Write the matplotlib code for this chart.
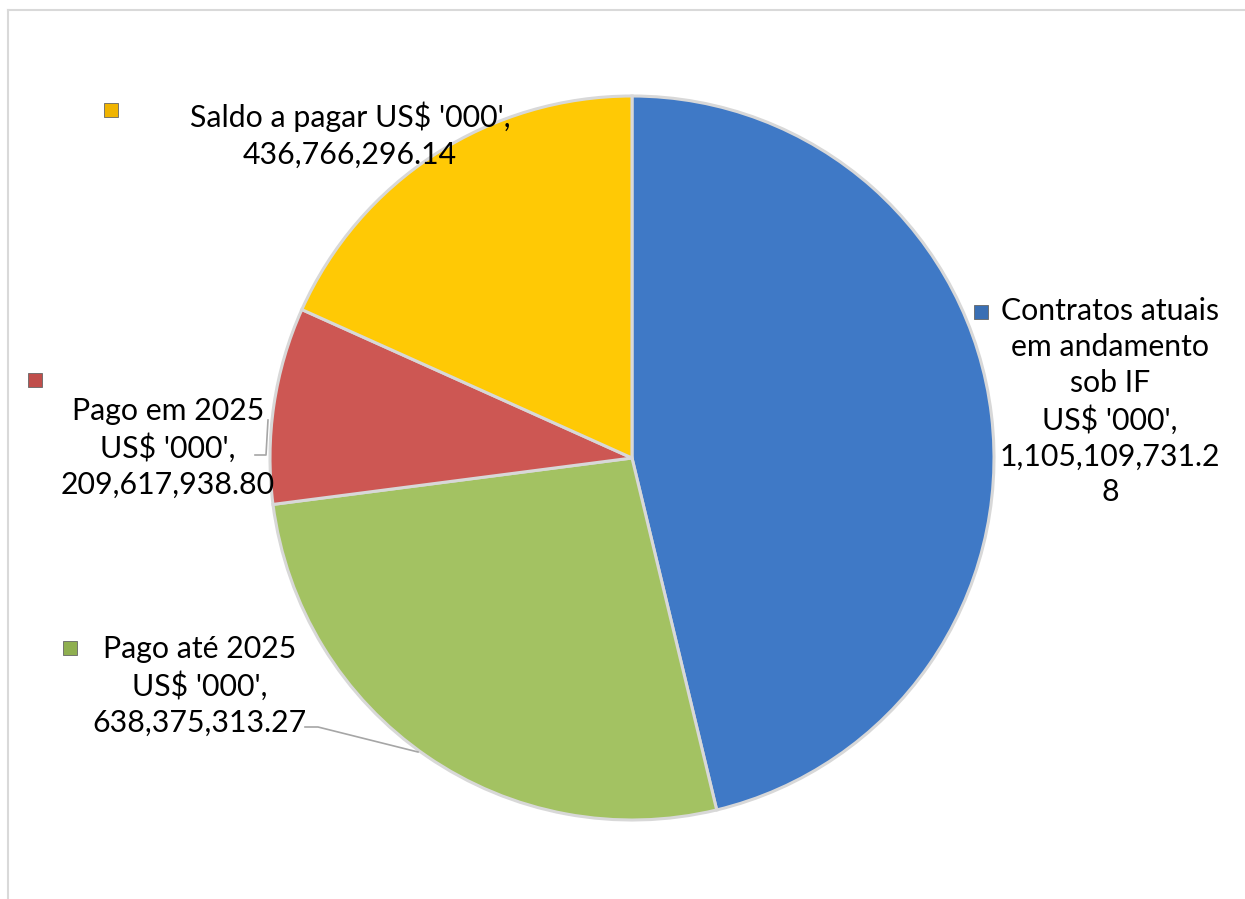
import matplotlib
matplotlib.use("Agg")
import matplotlib.pyplot as plt
from matplotlib.patches import Rectangle
from matplotlib.lines import Line2D

categories = ["Contratos atuais em andamento sob IF", "Pago até 2025", "Pago em 2025", "Saldo a pagar"]
values = [1105109731.28, 638375313.27, 209617938.80, 436766296.14]
colors = ["#3f79c6", "#a3c262", "#cd5753", "#ffc905"]
marker_colors = ["#3a6fb4", "#8faf50", "#c04e4b", "#f0b400"]

W, H = 1245, 899
fig = plt.figure(figsize=(W / 100, H / 100), dpi=100)
fig.patch.set_facecolor("white")

def fx(x):
    return x / W

def fy(y):
    return 1 - y / H

# outer frame (light gray)
fig.add_artist(Line2D([fx(8), fx(8)], [fy(10), fy(899)], color="#d9d9d9", lw=1.5))
fig.add_artist(Line2D([fx(8), fx(1245)], [fy(10), fy(10)], color="#d9d9d9", lw=1.5))

cx, cy, r = 632, 458, 362
ax = fig.add_axes([fx(cx - r), fy(cy + r), 2 * r / W, 2 * r / H])
ax.pie(values, colors=colors, startangle=90, counterclock=False, radius=1,
       wedgeprops=dict(edgecolor="#d8d8d8", linewidth=2.2))
ax.set_xlim(-1, 1)
ax.set_ylim(-1, 1)
ax.set_aspect("auto")
ax.axis("off")

font = "Lato"
fs = 21.8

def fmt(v):
    return f"{v:,.2f}"

blue_val = fmt(values[0])
labels = [
    "Contratos atuais\nem andamento\nsob IF\nUS$ '000',\n" + blue_val[:-1] + "\n" + blue_val[-1],
    categories[1] + "\nUS$ '000',\n" + fmt(values[1]),
    categories[2] + "\nUS$ '000',\n" + fmt(values[2]),
    categories[3] + " US$ '000',\n" + fmt(values[3]),
]
# text anchor positions (center x, center y of first line) in pixels
label_pos = [(1110, 313), (200, 651), (168, 413), (350, 118)]
marker_pos = [(974, 305), (63, 641), (28, 373), (104, 103)]

for lab, (x, y) in zip(labels, label_pos):
    fig.text(fx(x), fy(y - 16), lab, ha="center", va="top", fontsize=fs,
             family=font, linespacing=1.34, color="black")

for (x, y), c in zip(marker_pos, marker_colors):
    fig.add_artist(Rectangle((fx(x), fy(y + 14)), 14 / W, 14 / H,
                             facecolor=c, edgecolor="#666666", lw=0.6,
                             transform=fig.transFigure))

# leader lines
fig.add_artist(Line2D([fx(305), fx(318), fx(418)], [fy(727), fy(727), fy(752)],
                      color="#a6a6a6", lw=1.2))
fig.add_artist(Line2D([fx(255), fx(266), fx(268)], [fy(455), fy(455), fy(420)],
                      color="#a6a6a6", lw=1.2))

fig.savefig("out.png", dpi=100, facecolor="white")
